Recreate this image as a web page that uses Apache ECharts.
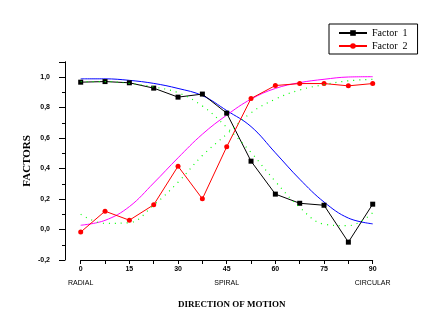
<!DOCTYPE html>
<html>
<head>
<meta charset="utf-8">
<script src="https://cdn.jsdelivr.net/npm/echarts@6/dist/echarts.min.js"></script>
<style>html,body{margin:0;padding:0;background:#fff;}#c{width:435px;height:328px;}</style>
</head>
<body>
<div id="c"></div>
<script>
// Data
var angles = [0, 7.5, 15, 22.5, 30, 37.5, 45, 52.5, 60, 67.5, 75, 82.5, 90];
var factor1 = [0.966, 0.970, 0.962, 0.927, 0.868, 0.888, 0.763, 0.448, 0.232, 0.172, 0.159, -0.083, 0.166];
var factor2 = [-0.017, 0.120, 0.061, 0.162, 0.415, 0.201, 0.542, 0.859, 0.944, 0.957, 0.957, 0.942, 0.957];
var fit1 = [0.988, 0.988, 0.978, 0.958, 0.925, 0.878, 0.78, 0.675, 0.503, 0.33, 0.18, 0.075, 0.037];
var fit2 = [0.028, 0.06, 0.15, 0.305, 0.47, 0.625, 0.75, 0.855, 0.925, 0.963, 0.985, 1.0, 1.002];
var theo1 = [0.97, 0.97, 0.958, 0.935, 0.897, 0.81, 0.67, 0.505, 0.315, 0.145, 0.035, 0.025, 0.11];
var theo2 = [0.10, 0.04, 0.045, 0.16, 0.31, 0.485, 0.625, 0.765, 0.855, 0.915, 0.95, 0.975, 0.985];
var xTickLabels = {0: 'RADIAL', 45: 'SPIRAL', 90: 'CIRCULAR'};

function pairs(ys) { return angles.map(function (a, i) { return [a, ys[i]]; }); }

var chart = echarts.init(document.getElementById('c'), null, {renderer: 'canvas'});
var tickFont = '"Liberation Sans", Arial, sans-serif';
var serif = '"Liberation Serif", "Times New Roman", serif';
chart.setOption({
  animation: false,
  backgroundColor: '#fff',
  grid: {left: 80.7, right: 62.3, top: 61.75, bottom: 68},
  legend: {
    orient: 'vertical', left: 329, top: 24,
    data: ['Factor  1', 'Factor  2'],
    borderColor: '#000', borderWidth: 1, borderRadius: 0,
    padding: [4, 10, 3, 9], itemGap: 3, itemWidth: 28, itemHeight: 7,
    textStyle: {fontFamily: serif, fontSize: 10, color: '#000'}
  },
  xAxis: {
    type: 'value', min: 0, max: 90, interval: 15,
    name: 'DIRECTION OF MOTION', nameLocation: 'middle', nameGap: 40, nameMoveOverlap: false,
    nameTextStyle: {fontFamily: serif, fontWeight: 'bold', fontSize: 9, color: '#000', padding: [0, 0, 0, 10]},
    axisLine: {onZero: false, lineStyle: {color: '#000', width: 1}},
    axisTick: {length: 4, lineStyle: {color: '#000'}},
    minorTick: {show: true, splitNumber: 2, length: 4, lineStyle: {color: '#000'}},
    splitLine: {show: false},
    axisLabel: {
      margin: 2,
      formatter: function (v) {
        var s = '{a|' + v + '}';
        if (xTickLabels[v]) s += '\n{b|' + xTickLabels[v] + '}';
        return s;
      },
      rich: {
        a: {fontFamily: tickFont, fontSize: 7, fontWeight: 'bold', lineHeight: 14, color: '#000'},
        b: {fontFamily: tickFont, fontSize: 7, lineHeight: 14, color: '#000'}
      }
    }
  },
  yAxis: {
    type: 'value', min: -0.2, max: 1.1, interval: 0.2, offset: 15.7,
    name: 'FACTORS', nameLocation: 'middle', nameGap: 32, nameRotate: 90, nameMoveOverlap: false,
    nameTextStyle: {fontFamily: serif, fontWeight: 'bold', fontSize: 11, color: '#000'},
    axisLine: {show: true, onZero: false, lineStyle: {color: '#000', width: 1}},
    axisTick: {show: true, length: 6, lineStyle: {color: '#000'}},
    minorTick: {show: true, splitNumber: 2, length: 3, lineStyle: {color: '#000'}},
    splitLine: {show: false},
    axisLabel: {
      margin: 15, showMaxLabel: false,
      fontFamily: tickFont, fontSize: 7, fontWeight: 'bold', color: '#000',
      formatter: function (v) { return v.toFixed(1).replace('.', ','); }
    }
  },
  series: [
    {name: 'fit1', type: 'line', data: pairs(fit1), smooth: 0.4, symbol: 'none',
     lineStyle: {color: '#0000ff', width: 1}, z: 2},
    {name: 'fit2', type: 'line', data: pairs(fit2), smooth: 0.4, symbol: 'none',
     lineStyle: {color: '#ff00ff', width: 1}, z: 2},
    {name: 'Factor  1', type: 'line', data: pairs(factor1), symbol: 'rect', symbolSize: 5,
     color: '#000', itemStyle: {color: '#000'}, lineStyle: {color: '#000', width: 1}, z: 3},
    {name: 'Factor  2', type: 'line', data: pairs(factor2), symbol: 'circle', symbolSize: 5,
     color: '#ff0000', itemStyle: {color: '#ff0000'}, lineStyle: {color: '#ff0000', width: 1}, z: 3},
    {name: 'theo1', type: 'line', data: pairs(theo1), smooth: 0.4, symbol: 'none',
     lineStyle: {color: '#00ff00', width: 1.2, type: [1, 5]}, z: 4},
    {name: 'theo2', type: 'line', data: pairs(theo2), smooth: 0.4, symbol: 'none',
     lineStyle: {color: '#00ff00', width: 1.2, type: [1, 5]}, z: 4}
  ]
});
</script>
</body>
</html>
